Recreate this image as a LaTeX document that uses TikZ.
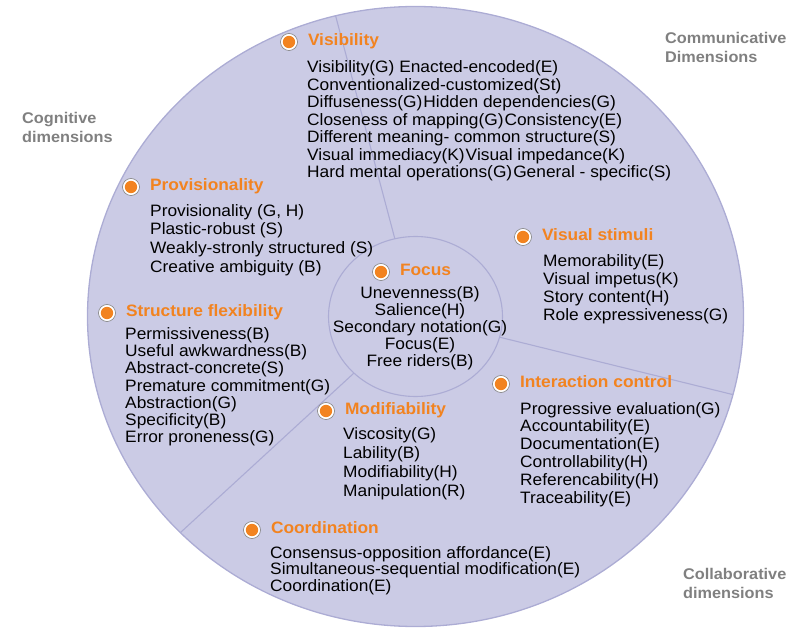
\documentclass[tikz,border=0pt]{standalone}
\usepackage{fontspec}
\setmainfont{Liberation Sans}[FakeStretch=1.05]
\usetikzlibrary{positioning}
\definecolor{lav}{RGB}{203,203,229}
\definecolor{lavline}{RGB}{172,172,212}
\definecolor{orng}{RGB}{242,131,32}
\definecolor{dimgray}{RGB}{128,128,128}
\tikzset{
  dot/.style={circle,draw=black!50,fill=white,line width=0.6pt,minimum size=17pt,inner sep=0pt,
    path picture={\fill[orng](path picture bounding box.center)circle(6.2pt);}},
  head/.style={right=10pt of #1,inner sep=0pt,text height=0.72em,text depth=0pt,text=orng,
    font=\fontsize{16.5}{18}\selectfont\bfseries},
  body/.style={anchor=north west,inner sep=0pt,align=left,font=\fontsize{16.5}{#1}\selectfont},
  body/.default=17.5,
  dimlabel/.style={anchor=north west,inner sep=0pt,align=left,text=dimgray,
    font=\fontsize{15.5}{19}\selectfont\bfseries}
}
\begin{document}
\begin{tikzpicture}[x=1pt,y=-1pt]
\useasboundingbox(0,0)rectangle(796,628);
\coordinate(c)at(415.5,316.5);
\coordinate(s1)at(335.6,15.8);
\coordinate(s2)at(732.9,394.6);
\coordinate(s3)at(180.4,532.6);
\fill[lav,draw=lavline,line width=1.3pt](c)ellipse[x radius=328,y radius=310];
\draw[lavline,line width=1.1pt](c)--(s1)(c)--(s2)(c)--(s3);
\fill[lav,draw=lavline,line width=1.1pt](c)ellipse[x radius=87,y radius=80];

\node[dot](visD)at(289,42){};
\node[head=visD](visH){Visibility};
\node[body](visB)at(307,60.5){Visibility(G) Enacted-encoded(E)\\
    Conventionalized-customized(St)\\
    Diffuseness(G)\hspace{1pt}Hidden dependencies(G)\\
    Closeness of mapping(G)\hspace{1pt}Consistency(E)\\
    Different meaning- common structure(S)\\
    Visual immediacy(K)\hspace{1pt}Visual impedance(K)\\
    Hard mental operations(G)\hspace{1pt}General - specific(S)};

\node[dot](proD)at(131,187){};
\node[head=proD](proH){Provisionality};
\node[body=18.7](proB)at(150,204){Provisionality (G, H)\\Plastic-robust (S)\\
    Weakly-stronly structured (S)\\Creative ambiguity (B)};

\node[dot](strD)at(107,313){};
\node[head=strD](strH){Structure flexibility};
\node[body=17.3](strB)at(125,327){Permissiveness(B)\\Useful awkwardness(B)\\
    Abstract-concrete(S)\\Premature commitment(G)\\Abstraction(G)\\
    Specificity(B)\\Error proneness(G)};

\node[dot](focD)at(381,272){};
\node[head=focD](focH){Focus};
\node[body=17,anchor=north,align=center](focB)at(420,286){Unevenness(B)\\Salience(H)\\
    Secondary notation(G)\\Focus(E)\\Free riders(B)};

\node[dot](stiD)at(523,237){};
\node[head=stiD](stiH){Visual stimuli};
\node[body=18](stiB)at(543,254){Memorability(E)\\Visual impetus(K)\\
    Story content(H)\\Role expressiveness(G)};

\node[dot](intD)at(501,384){};
\node[head=intD](intH){Interaction control};
\node[body=17.8](intB)at(520,402){Progressive evaluation(G)\\Accountability(E)\\
    Documentation(E)\\Controllability(H)\\Referencability(H)\\Traceability(E)};

\node[dot](modD)at(326,411){};
\node[head=modD](modH){Modifiability};
\node[body=19](modB)at(343,427){Viscosity(G)\\Lability(B)\\
    Modifiability(H)\\Manipulation(R)};

\node[dot](cooD)at(252,530){};
\node[head=cooD](cooH){Coordination};
\node[body=16.8](cooB)at(270,546){Consensus-opposition affordance(E)\\
    Simultaneous-sequential modification(E)\\Coordination(E)};

\node[dimlabel](cog)at(22,112){Cognitive\\dimensions};
\node[dimlabel](com)at(665,32){Communicative\\Dimensions};
\node[dimlabel](col)at(683,568){Collaborative\\dimensions};
\end{tikzpicture}
\end{document}
